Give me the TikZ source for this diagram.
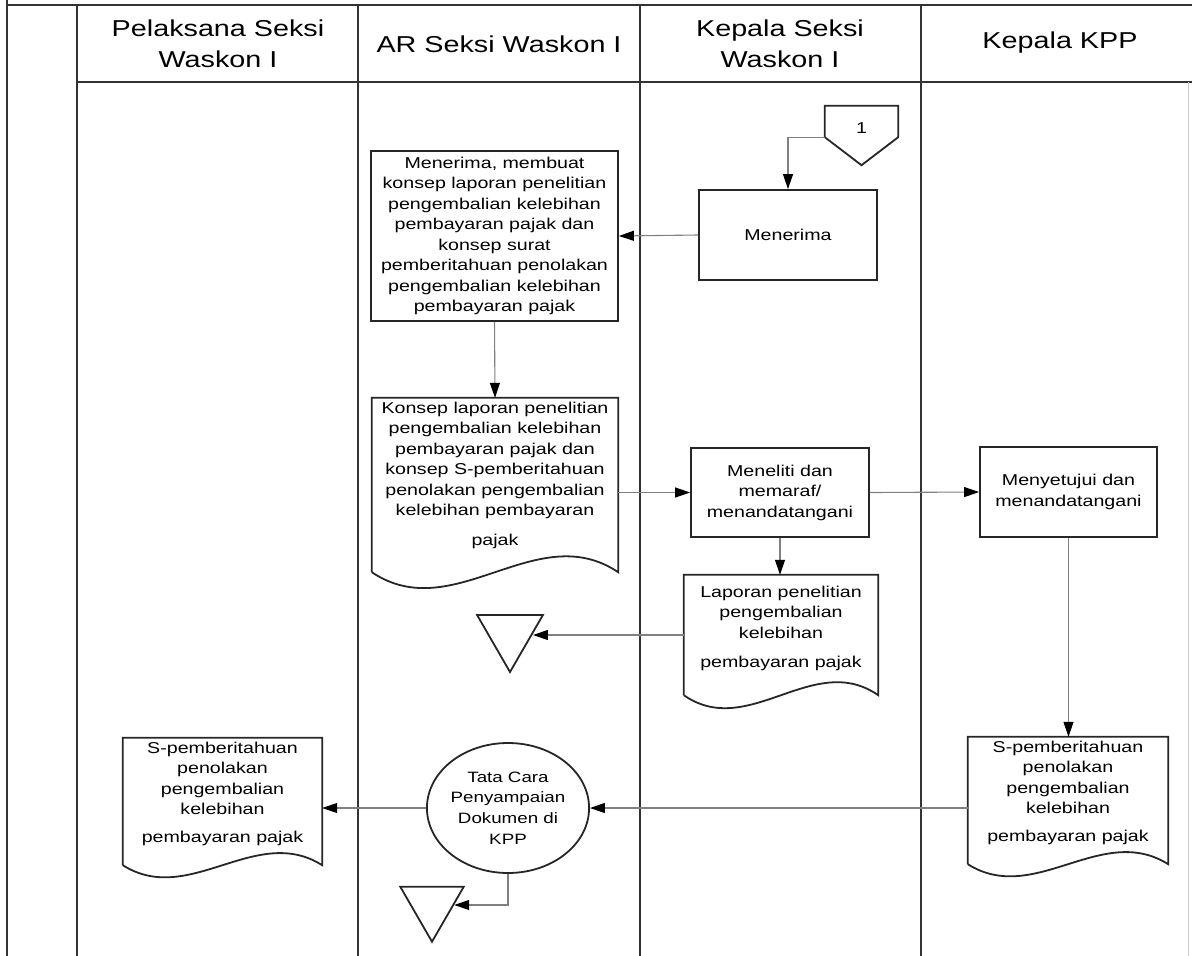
\documentclass[tikz,border=0pt]{standalone}
\usepackage{fontspec}
\setmainfont{Liberation Sans}[FakeStretch=1.25]
\usetikzlibrary{arrows.meta,shapes.geometric,calc}
\newcommand{\hdrfont}{\fontsize{23}{31}\selectfont}
\newcommand{\bodyfont}{\fontsize{15.7}{20.5}\selectfont}
\newcommand{\circfont}{\fontsize{15}{20.7}\selectfont}
\newcommand{\docpath}[2]{\draw[boxline] (#1.south west) -- (#1.north west) -- (#1.north east) -- (#1.south east)
  .. controls ($(#1.south east)!0.333!(#1.south west)+(0,-#2)$) and ($(#1.south west)!0.333!(#1.south east)+(0,#2)$) .. (#1.south west);}
\tikzset{
  lane/.style={line width=2.4pt, draw=black!80},
  faint/.style={line width=0.8pt, draw=black!20},
  boxline/.style={line width=1.8pt, draw=black!85},
  hdr/.style={inner sep=0, align=center, font=\hdrfont, text=black},
  proc/.style={rectangle, draw=black!85, line width=1.8pt, inner sep=0, align=center, font=\bodyfont, text=black},
  docshape/.style={rectangle, inner sep=0, draw=none},
  doctext/.style={inner sep=0, align=center, font=\bodyfont, anchor=north, text=black},
  tri/.style={regular polygon, regular polygon sides=3, shape border rotate=180, draw=black!85, line width=1.8pt, inner sep=0},
  conn/.style={line width=1.1pt, draw=black!50, -{Triangle[length=15pt,width=10pt,color=black]}}
}
\begin{document}
\begin{tikzpicture}[x=1pt,y=-1pt]
\useasboundingbox (0,0) rectangle (1192,956);
% frame and lanes
\draw[lane] (7,0) -- (7,956);
\draw[lane] (7,5) -- (1192,5);
\draw[lane] (77,5) -- (77,956);
\draw[lane] (358,5) -- (358,956);
\draw[lane] (640,5) -- (640,956);
\draw[lane] (921,5) -- (921,956);
\draw[lane] (77,82) -- (1192,82);
\draw[faint] (1188,82) -- (1188,956);
% headers
\node[hdr] (hpel) at (218,44) {Pelaksana Seksi\\Waskon I};
\node[hdr] (har) at (499,44) {AR Seksi Waskon I};
\node[hdr] (hkas) at (780,44) {Kepala Seksi\\Waskon I};
\node[hdr] (hkpp) at (1060,43) {Kepala KPP};
% off-page connector
\node[inner sep=0, minimum width=73, minimum height=31, font=\bodyfont] (off1) at (861.5,121.5) {\raisebox{-12pt}[0pt][0pt]{1}};
\draw[boxline] (off1.north west) -- (off1.north east) -- (off1.south east) -- ($(off1.south)+(0,28)$) -- (off1.south west) -- cycle;
% process boxes
\node[proc, minimum width=178, minimum height=90] (terima) at (788,235) {Menerima};
\node[proc, minimum width=247, minimum height=170] (ar) at (494.5,236) {Menerima, membuat\\konsep laporan penelitian\\pengembalian kelebihan\\pembayaran pajak dan\\konsep surat\\pemberitahuan penolakan\\pengembalian kelebihan\\pembayaran pajak};
\node[proc, minimum width=178, minimum height=89] (teliti) at (780,492.5) {Meneliti dan\\memaraf/\\menandatangani};
\node[proc, minimum width=177, minimum height=90] (setuju) at (1068.5,492) {Menyetujui dan\\menandatangani};
% documents
\node[docshape, minimum width=246, minimum height=174] (konsep) at (495,485) {};
\docpath{konsep}{55}
\node[doctext] (konsepT) at ($(konsep.north)+(0,3.7)$) {Konsep laporan penelitian\\pengembalian kelebihan\\pembayaran pajak dan\\konsep S-pemberitahuan\\penolakan pengembalian\\kelebihan pembayaran\\[9pt]pajak};
\node[docshape, minimum width=194, minimum height=120] (laporan) at (781,635) {};
\docpath{laporan}{45}
\node[doctext] (laporanT) at ($(laporan.north)+(0,10.7)$) {Laporan penelitian\\pengembalian\\kelebihan\\[9pt]pembayaran pajak};
\node[docshape, minimum width=200, minimum height=127] (spkpp) at (1068,800.5) {};
\docpath{spkpp}{42}
\node[doctext] (spkppT) at ($(spkpp.north)+(0,3.7)$) {S-pemberitahuan\\penolakan\\pengembalian\\kelebihan\\[7pt]pembayaran pajak};
\node[docshape, minimum width=199, minimum height=127] (spwp) at (222.5,801.5) {};
\docpath{spwp}{42}
\node[doctext] (spwpT) at ($(spwp.north)+(0,3.7)$) {S-pemberitahuan\\penolakan\\pengembalian\\kelebihan\\[7pt]pembayaran pajak};
% circle
\node[draw=black!85, line width=1.8pt, ellipse, minimum width=150, minimum height=130, inner sep=0, align=center, font=\circfont, text=black] (tata) at (508,808) {Tata Cara\\Penyampaian\\Dokumen di\\KPP};
% storage triangles
\node[tri, minimum size=76] (tri1) at (510,634) {};
\node[tri, minimum size=73.4] (tri2) at (432,905) {};
% connectors
\draw[conn] (off1.south west) -| (terima.north);
\draw[conn] (terima.west) -- (ar.east);
\draw[conn] (ar.south) -- (konsep.north);
\draw[conn] (teliti.west -| konsep.east) -- (teliti.west);
\draw[conn] (teliti.east) -- (setuju.west);
\draw[conn] (teliti.south) -- (teliti.south |- laporan.north);
\draw[conn] (laporan.west) -- (laporan.west -| tri1.east);
\draw[conn] (setuju.south) -- (setuju.south |- spkpp.north);
\draw[conn] (spkpp.west |- tata.east) -- (tata.east);
\draw[conn] (tata.west) -- (tata.west -| spwp.east);
\draw[conn] (tata.south) |- (tri2.east);
\end{tikzpicture}
\end{document}
